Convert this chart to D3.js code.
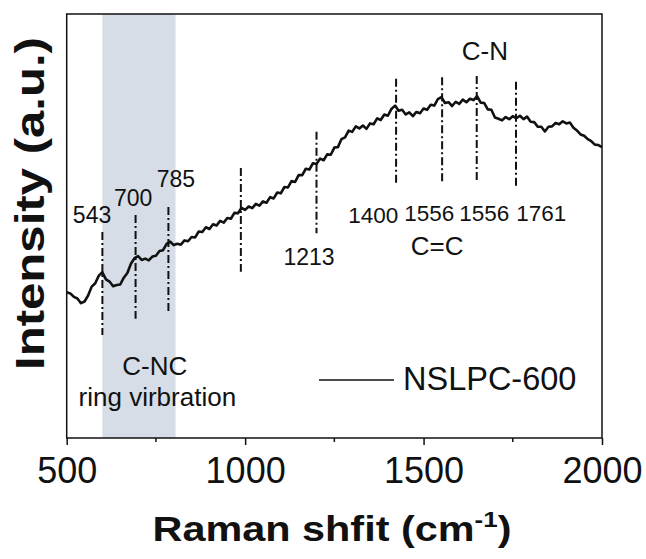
<!DOCTYPE html>
<html>
<head>
<meta charset="utf-8">
<script src="https://d3js.org/d3.v7.min.js"></script>
<style>
  body { margin: 0; background: #fff; }
  text { font-family: Arial, "Liberation Sans", sans-serif; fill: #111; }
</style>
</head>
<body>
<svg width="646" height="559"></svg>
<script>
// spectrum (cm-1, arbitrary intensity)
const ramanShift = [
  500, 510, 520, 530, 540, 550, 560, 570, 580, 590,
  600, 610, 620, 630, 640, 650, 660, 670, 680, 690,
  700, 710, 720, 730, 740, 750, 760, 770, 780, 790,
  800, 810, 820, 830, 840, 850, 860, 870, 880, 890,
  900, 910, 920, 930, 940, 950, 960, 970, 980, 990,
  1000, 1010, 1020, 1030, 1040, 1050, 1060, 1070, 1080, 1090,
  1100, 1110, 1120, 1130, 1140, 1150, 1160, 1170, 1180, 1190,
  1200, 1210, 1220, 1230, 1240, 1250, 1260, 1270, 1280, 1290,
  1300, 1310, 1320, 1330, 1340, 1350, 1360, 1370, 1380, 1390,
  1400, 1410, 1420, 1430, 1440, 1450, 1460, 1470, 1480, 1490,
  1500, 1510, 1520, 1530, 1540, 1550, 1560, 1570, 1580, 1590,
  1600, 1610, 1620, 1630, 1640, 1650, 1660, 1670, 1680, 1690,
  1700, 1710, 1720, 1730, 1740, 1750, 1760, 1770, 1780, 1790,
  1800, 1810, 1820, 1830, 1840, 1850, 1860, 1870, 1880, 1890,
  1900, 1910, 1920, 1930, 1940, 1950, 1960, 1970, 1980, 1990,
  2000
];
const intensity = [
  34.4, 34.1, 33.3, 32.9, 31.8, 32.2, 33.6, 35.7, 36.5, 38.3,
  39.1, 37.4, 36.9, 35.8, 36.1, 36.2, 37.8, 38.9, 41.1, 42.4,
  42.9, 42.0, 42.3, 41.9, 42.8, 43.0, 44.1, 44.3, 45.8, 46.3,
  45.5, 45.8, 45.6, 46.6, 46.4, 47.4, 47.3, 48.7, 48.6, 49.7,
  49.3, 50.4, 50.1, 51.2, 50.8, 51.9, 51.7, 53.1, 53.0, 54.3,
  53.8, 54.6, 54.2, 55.2, 54.8, 55.8, 55.5, 56.8, 56.5, 57.9,
  57.7, 59.2, 59.1, 60.6, 60.4, 62.0, 62.0, 63.5, 63.3, 64.8,
  64.6, 65.9, 65.5, 66.9, 66.8, 68.5, 68.6, 70.5, 70.9, 72.5,
  72.2, 73.5, 73.0, 73.7, 72.9, 74.2, 74.0, 75.4, 75.0, 76.3,
  76.0, 77.6, 78.4, 77.2, 77.4, 76.3, 76.8, 75.9, 76.9, 76.6,
  77.7, 77.4, 78.6, 78.4, 79.9, 80.4, 79.0, 79.2, 78.3, 79.3,
  78.8, 79.8, 79.2, 80.0, 79.7, 80.6, 79.1, 79.0, 77.5, 77.4,
  75.6, 75.3, 74.9, 75.7, 75.2, 75.9, 75.4, 76.0, 75.2, 75.8,
  74.6, 74.5, 73.4, 73.4, 72.3, 73.4, 73.5, 74.3, 74.0, 74.7,
  74.2, 74.4, 73.2, 72.5, 71.6, 71.3, 70.5, 70.0, 69.2, 69.1,
  68.6
];

// dash-dot peak markers: position, bottom, top
const peakPos = [600, 693, 785, 988, 1200, 1423, 1552, 1649, 1759];
const peakLow = [24.3, 28.1, 29.7, 39.2, 48.3, 60.1, 60.4, 60.8, 59.4];
const peakHigh = [48.6, 52.6, 54.5, 63.7, 72.2, 84.7, 85.1, 85.4, 84.0];

// text notes: label, x (cm-1), y (intensity)
const noteText = ["543", "700", "785", "1213", "1400", "1556", "1556", "1761", "C=C", "C-N", "C-NC", "ring virbration"];
const noteX = [571, 686, 806, 1179, 1359, 1516, 1670, 1830, 1538, 1672, 747, 754];
const noteY = [50.7, 54.7, 59.2, 40.8, 50.7, 51.2, 51.2, 51.2, 43.2, 89.2, 14.9, 7.6];
const noteSize = [23, 23, 23, 23, 22.5, 22.5, 22.5, 22.5, 26, 26, 26, 26];

const band = [600, 805];
const xTicks = [500, 1000, 1500, 2000];
const xMinor = [750, 1250, 1750];
const seriesName = "NSLPC-600";

const svg = d3.select("svg");
const mLeft = 66.7, mRight = 602, mTop = 14, mBottom = 438;

const x = d3.scaleLinear().domain([500, 2000]).range([mLeft, mRight]);
const y = d3.scaleLinear().domain([0, 100]).range([mBottom, mTop]);

// shaded region
svg.append("rect")
  .attr("x", x(band[0])).attr("y", mTop)
  .attr("width", x(band[1]) - x(band[0]))
  .attr("height", mBottom - mTop)
  .attr("fill", "#d6dde6");

// peak lines
svg.append("g").selectAll("line")
  .data(peakPos)
  .join("line")
  .attr("x1", d => x(d)).attr("x2", d => x(d))
  .attr("y1", (d, i) => y(peakHigh[i]))
  .attr("y2", (d, i) => y(peakLow[i]))
  .attr("stroke", "#111")
  .attr("stroke-width", 2)
  .attr("stroke-dasharray", "8,3,2,3");

// spectrum
const pts = ramanShift.map((d, i) => [d, intensity[i]]);
svg.append("path")
  .datum(pts)
  .attr("fill", "none")
  .attr("stroke", "#111")
  .attr("stroke-width", 2.6)
  .attr("stroke-linejoin", "round")
  .attr("d", d3.line().x(d => x(d[0])).y(d => y(d[1])));

// annotations
svg.append("g").selectAll("text")
  .data(noteText)
  .join("text")
  .attr("x", (d, i) => x(noteX[i]))
  .attr("y", (d, i) => y(noteY[i]))
  .attr("text-anchor", "middle")
  .attr("font-size", (d, i) => noteSize[i])
  .text(d => d);

// legend
svg.append("line")
  .attr("x1", 319).attr("x2", 394)
  .attr("y1", 380).attr("y2", 380)
  .attr("stroke", "#111").attr("stroke-width", 1.5);
svg.append("text")
  .attr("x", 403).attr("y", 390)
  .attr("font-size", 32.5)
  .text(seriesName);

// frame
svg.append("rect")
  .attr("x", mLeft).attr("y", mTop)
  .attr("width", mRight - mLeft).attr("height", mBottom - mTop)
  .attr("fill", "none").attr("stroke", "#111").attr("stroke-width", 1.5);

// x axis
const xAxis = svg.append("g")
  .attr("transform", `translate(0,${mBottom})`)
  .call(d3.axisBottom(x).tickValues(xTicks).tickSize(7).tickPadding(12).tickFormat(d3.format("d")));
xAxis.select(".domain").remove();
xAxis.selectAll("text").attr("font-size", 36).attr("font-family", "Arial, 'Liberation Sans', sans-serif").attr("fill", "#111");
xAxis.selectAll("line").attr("stroke", "#111").attr("stroke-width", 1.5);

svg.append("g").selectAll("line")
  .data(xMinor)
  .join("line")
  .attr("x1", d => x(d)).attr("x2", d => x(d))
  .attr("y1", mBottom).attr("y2", mBottom + 4)
  .attr("stroke", "#111").attr("stroke-width", 1.5);

// axis titles
const xt = svg.append("text")
  .attr("text-anchor", "middle")
  .attr("font-size", 35)
  .attr("font-weight", "bold");
xt.append("tspan").text("Raman shfit (cm");
xt.append("tspan").attr("font-size", 22).attr("dy", -14).text("-1");
xt.append("tspan").attr("dy", 14).text(")");
const xw = xt.node().getBBox().width;
xt.attr("transform", `translate(332,541) scale(${359 / xw},1)`);

const yt = svg.append("text")
  .attr("text-anchor", "middle")
  .attr("font-size", 41)
  .attr("font-weight", "bold")
  .text("Intensity (a.u.)");
const yw = yt.node().getBBox().width;
yt.attr("transform", `translate(44,203.5) rotate(-90) scale(${333 / yw},1)`);
</script>
</body>
</html>
